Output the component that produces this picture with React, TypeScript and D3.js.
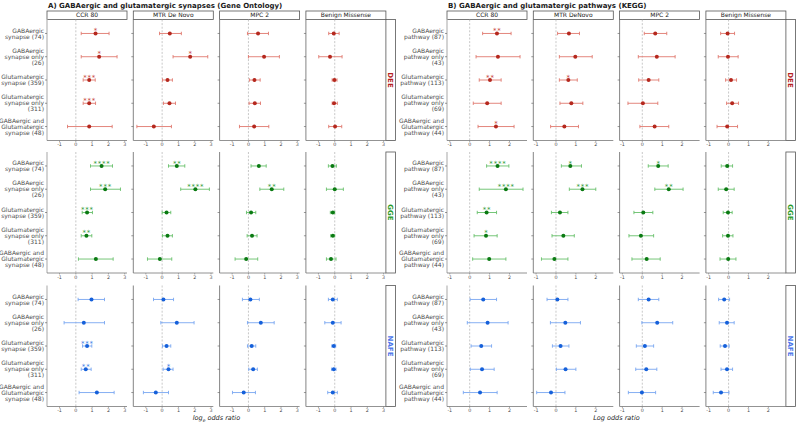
import React from "react";
import * as d3 from "d3";

// ---------- data ----------
const cohorts = ["DEE", "GGE", "NAFE"];
const goFacets = ["CCR 80", "MTR De Novo", "MPC 2", "Benign Missense"];
const keggFacets = ["CCR 80", "MTR DeNovo", "MPC 2", "Benign Missense"];
const goLabels = [
  ["GABAergic", "synapse (74)"],
  ["GABAergic", "synapse only", "(26)"],
  ["Glutamatergic", "synapse (359)"],
  ["Glutamatergic", "synapse only", "(311)"],
  ["GABAergic and", "Glutamatergic", "synapse (48)"],
];
const keggLabels = [
  ["GABAergic", "pathway (87)"],
  ["GABAergic", "pathway only", "(43)"],
  ["Glutamatergic", "pathway (113)"],
  ["Glutamatergic", "pathway only", "(69)"],
  ["GABAergic and", "Glutamatergic", "pathway (44)"],
];
const goTicks = [-1, 0, 1, 2, 3];
const keggTicks = [-1, 0, 1, 2];

// [facet][row]
const goDEEest = [[1.21, 1.43, 0.82, 0.82, 0.82], [0.47, 1.72, 0.33, 0.45, -0.51], [0.59, 0.96, 0.37, 0.39, 0.35], [-0.06, -0.29, -0.02, -0.04, 0.02]];
const goDEElo = [[0.33, 0.33, 0.45, 0.45, -0.51], [-0.16, 0.67, 0.02, 0.08, -1.55], [-0.06, 0, 0.06, 0.04, -0.55], [-0.37, -0.98, -0.16, -0.16, -0.37]];
const goDEEhi = [[2.04, 2.53, 1.19, 1.21, 2.23], [1.18, 2.8, 0.63, 0.82, 0.57], [1.23, 1.9, 0.72, 0.74, 1.25], [0.27, 0.45, 0.14, 0.16, 0.43]];
const goDEEsig = [["*", "*", "***", "***", ""], ["", "*", "", "", ""], ["", "", "", "", ""], ["", "", "", "", ""]];

const goGGEest = [[1.58, 1.8, 0.69, 0.65, 1.23], [0.9, 2.04, 0.27, 0.33, -0.14], [0.64, 1.43, 0.16, 0.22, -0.14], [-0.14, 0, -0.12, -0.12, -0.23]];
const goGGElo = [[0.9, 0.9, 0.39, 0.33, 0.16], [0.39, 1.14, 0, 0.02, -0.9], [0.16, 0.7, -0.12, -0.08, -0.82], [-0.39, -0.51, -0.27, -0.25, -0.51]];
const goGGEhi = [[2.25, 2.74, 1.02, 0.98, 2.29], [1.39, 2.9, 0.53, 0.63, 0.59], [1.09, 2.17, 0.45, 0.53, 0.57], [0.1, 0.53, 0, 0, 0.08]];
const goGGEsig = [["****", "***", "***", "**", ""], ["**", "****", "", "", ""], ["", "**", "", "", ""], ["", "", "", "", ""]];

const goNAFEest = [[0.96, 0.49, 0.69, 0.61, 1.29], [0.08, 0.9, 0.27, 0.39, -0.39], [0.12, 0.76, 0.2, 0.29, -0.29], [-0.12, -0.12, -0.06, -0.06, -0.12]];
const goNAFElo = [[0.14, -0.72, 0.41, 0.33, 0.2], [-0.53, -0.08, 0.02, 0.06, -1.15], [-0.37, -0.06, -0.06, 0.02, -0.98], [-0.39, -0.61, -0.18, -0.2, -0.43]];
const goNAFEhi = [[1.76, 1.76, 0.98, 0.94, 2.35], [0.7, 1.96, 0.53, 0.67, 0.39], [0.67, 1.58, 0.45, 0.55, 0.43], [0.16, 0.39, 0.06, 0.08, 0.16]];
const goNAFEsig = [["", "", "***", "**", ""], ["", "", "", "*", ""], ["", "", "", "", ""], ["", "", "", "", ""]];

const keggDEEest = [[1.37, 1.42, 1.02, 0.88, 1.32], [0.65, 0.97, 0.62, 0.77, 0.42], [0.65, 0.73, 0.32, 0.03, 0.62], [-0.05, -0.03, 0.12, 0.18, -0.07]];
const keggDEElo = [[0.65, 0.32, 0.48, 0.18, 0.42], [0.08, 0.17, 0.17, 0.2, -0.27], [0.1, -0.2, -0.18, -0.72, -0.12], [-0.4, -0.52, -0.15, -0.1, -0.58]];
const keggDEEhi = [[2.08, 2.53, 1.58, 1.58, 2.23], [1.18, 1.82, 1.07, 1.35, 1.13], [1.23, 1.65, 0.83, 0.78, 1.33], [0.3, 0.48, 0.4, 0.5, 0.45]];
const keggDEEsig = [["**", "", "**", "", "*"], ["", "", "*", "", ""], ["", "", "", "", ""], ["", "", "", "", ""]];

const keggGGEest = [[1.4, 1.82, 0.85, 0.82, 0.98], [0.72, 1.33, 0.2, 0.37, -0.08], [0.8, 1.33, 0.05, -0.07, 0.22], [-0.07, -0.12, -0.03, -0.03, -0.02]];
const keggGGElo = [[0.85, 0.48, 0.38, 0.22, 0.15], [0.27, 0.67, -0.23, -0.2, -0.73], [0.3, 0.63, -0.42, -0.67, -0.52], [-0.37, -0.52, -0.27, -0.3, -0.43]];
const keggGGEhi = [[1.97, 2.68, 1.35, 1.38, 1.82], [1.28, 2.0, 0.6, 0.92, 0.6], [1.3, 2.05, 0.53, 0.57, 0.9], [0.2, 0.28, 0.18, 0.22, 0.37]];
const keggGGEsig = [["****", "****", "**", "*", ""], ["*", "***", "", "", ""], ["*", "**", "", "", ""], ["", "", "", "", ""]];

const keggNAFEest = [[0.68, 0.9, 0.58, 0.62, 0.52], [0.07, 0.47, 0.23, 0.48, -0.25], [0.32, 0.75, 0.13, 0.2, -0.02], [-0.22, -0.08, -0.18, -0.08, -0.38]];
const keggNAFElo = [[0.02, -0.12, 0.07, 0.03, -0.32], [-0.45, -0.28, -0.18, 0.02, -0.97], [-0.2, -0.02, -0.3, -0.33, -0.7], [-0.5, -0.47, -0.42, -0.38, -0.77]];
const keggNAFEhi = [[1.35, 1.93, 1.1, 1.23, 1.38], [0.6, 1.23, 0.65, 1.0, 0.45], [0.83, 1.53, 0.57, 0.73, 0.67], [0.05, 0.28, 0.03, 0.2, 0.02]];
const keggNAFEsig = [["", "", "", "", ""], ["", "", "", "", ""], ["", "", "", "", ""], ["", "", "", "", ""]];

// ---------- style / layout ----------
const FONT = "'DejaVu Sans', sans-serif";
const pointColors = ["#b5281e", "#0a7a12", "#1560da"];
const barColors = ["#e0786e", "#66c06a", "#78a6f0"];
const starColors = ["#c8463c", "#2f9a36", "#3f80e6"];
const stripColors = ["#b51f1f", "#2a9a2a", "#4a74ea"];
const rowTops = [19.5, 152, 285.5];
const panelH = 121;
const facetW = 80;
const facetStep = 86.3;

const panels = [
  {
    title: "A) GABAergic and glutamatergic synapses (Gene Ontology)",
    left: 47,
    domain: [-1.77, 3.14],
    facets: goFacets,
    labels: goLabels,
    ticks: goTicks,
    xTitle: "log",
    data: [
      { est: goDEEest, lo: goDEElo, hi: goDEEhi, sig: goDEEsig },
      { est: goGGEest, lo: goGGElo, hi: goGGEhi, sig: goGGEsig },
      { est: goNAFEest, lo: goNAFElo, hi: goNAFEhi, sig: goNAFEsig },
    ],
  },
  {
    title: "B) GABAergic and glutamatergic pathways (KEGG)",
    left: 447,
    domain: [-1.14, 2.88],
    facets: keggFacets,
    labels: keggLabels,
    ticks: keggTicks,
    xTitle: "Log odds ratio",
    data: [
      { est: keggDEEest, lo: keggDEElo, hi: keggDEEhi, sig: keggDEEsig },
      { est: keggGGEest, lo: keggGGElo, hi: keggGGEhi, sig: keggGGEsig },
      { est: keggNAFEest, lo: keggNAFElo, hi: keggNAFEhi, sig: keggNAFEsig },
    ],
  },
];

function Panel({ p }: { p: any }) {
  const x = d3.scaleLinear().domain(p.domain).range([0, facetW]);
  const rightEdge = p.left + 3 * facetStep + facetW;
  const centerX = (p.left + rightEdge) / 2;
  return (
    <g>
      <text x={p.left + 1} y={7.5} fontSize={7} fontWeight="bold" fill="#1a1a1a" fontFamily={FONT}>
        {p.title}
      </text>
      {p.facets.map((f: string, fi: number) => {
        const fl = p.left + fi * facetStep;
        return (
          <g key={"h" + fi}>
            <rect x={fl} y={11} width={facetW} height={8.5} fill="#fff" stroke="#555" strokeWidth={0.8} />
            <text x={fl + facetW / 2} y={17.4} fontSize={6} textAnchor="middle" fill="#1a1a1a" fontFamily={FONT}>
              {f}
            </text>
          </g>
        );
      })}
      {cohorts.map((c, ci) => {
        const top = rowTops[ci];
        const y = d3.scalePoint<number>().domain([0, 1, 2, 3, 4]).range([top, top + panelH]).padding(0.6);
        const d = p.data[ci];
        return (
          <g key={c}>
            {p.labels.map((lines: string[], ri: number) => {
              const cy = y(ri) as number;
              const lh = 6;
              const start = cy - ((lines.length - 1) * lh) / 2;
              return (
                <text key={ri} x={p.left - 3} textAnchor="end" fontSize={6} fill="#4d4d4d" fontFamily={FONT}>
                  {lines.map((ln, li) => (
                    <tspan key={li} x={p.left - 3} y={start + li * lh + 2.1}>
                      {ln}
                    </tspan>
                  ))}
                </text>
              );
            })}
            {p.facets.map((f: string, fi: number) => {
              const fl = p.left + fi * facetStep;
              const X = (v: number) => fl + x(v);
              return (
                <g key={fi}>
                  <line x1={X(0)} x2={X(0)} y1={top} y2={top + panelH} stroke="#b0b0b0" strokeWidth={0.7} strokeDasharray="2,1.6" />
                  <line
                    x1={fl}
                    x2={fl}
                    y1={top}
                    y2={top + panelH}
                    stroke={fi === 0 ? "#c8c8c8" : "#666"}
                    strokeWidth={fi === 0 ? 1.6 : 0.8}
                  />
                  {[0, 1, 2, 3, 4].map((ri) => (
                    <line key={ri} x1={fl - 2} x2={fl} y1={y(ri)} y2={y(ri)} stroke="#555" strokeWidth={0.6} />
                  ))}
                  <line x1={fl} x2={fl + facetW} y1={top + panelH} y2={top + panelH} stroke="#777" strokeWidth={0.8} />
                  {p.ticks.map((t: number) => (
                    <g key={t}>
                      <line x1={X(t)} x2={X(t)} y1={top + panelH} y2={top + panelH + 1.5} stroke="#777" strokeWidth={0.6} />
                      <text x={X(t)} y={top + panelH + 5.6} fontSize={4.8} textAnchor="middle" fill="#4d4d4d" fontFamily={FONT}>
                        {t}
                      </text>
                    </g>
                  ))}
                  {[0, 1, 2, 3, 4].map((ri) => {
                    const yy = y(ri) as number;
                    const e = d.est[fi][ri];
                    const lo = d.lo[fi][ri];
                    const hi = d.hi[fi][ri];
                    const s = d.sig[fi][ri];
                    return (
                      <g key={ri}>
                        <line x1={X(lo)} x2={X(hi)} y1={yy} y2={yy} stroke={barColors[ci]} strokeWidth={0.9} />
                        <line x1={X(lo)} x2={X(lo)} y1={yy - 1.7} y2={yy + 1.7} stroke={barColors[ci]} strokeWidth={0.9} />
                        <line x1={X(hi)} x2={X(hi)} y1={yy - 1.7} y2={yy + 1.7} stroke={barColors[ci]} strokeWidth={0.9} />
                        <circle cx={X(e)} cy={yy} r={2} fill={pointColors[ci]} />
                        {s && (
                          <text x={X(e) + 0.4} y={yy - 0.3} fontSize={7} textAnchor="middle" fill={starColors[ci]} fontFamily={FONT} letterSpacing={0.8}>
                            {s}
                          </text>
                        )}
                      </g>
                    );
                  })}
                </g>
              );
            })}
            <rect x={rightEdge} y={top} width={9.5} height={panelH} fill="#fff" stroke="#555" strokeWidth={0.8} />
            <text
              transform={`translate(${rightEdge + 4.75},${top + panelH / 2}) rotate(90)`}
              textAnchor="middle"
              dy="0.35em"
              fontSize={7}
              fontWeight="bold"
              fill={stripColors[ci]}
              fontFamily={FONT}
            >
              {c}
            </text>
          </g>
        );
      })}
      {p.xTitle === "log" ? (
        <text x={centerX} y={420} fontSize={6.5} textAnchor="middle" fontStyle="italic" fill="#1a1a1a" fontFamily={FONT}>
          log
          <tspan fontSize={4.5} dy={1.5}>
            e
          </tspan>
          <tspan dy={-1.5}> odds ratio</tspan>
        </text>
      ) : (
        <text x={centerX} y={420} fontSize={6.5} textAnchor="middle" fontStyle="italic" fill="#1a1a1a" fontFamily={FONT}>
          {p.xTitle}
        </text>
      )}
    </g>
  );
}

export default function App() {
  return (
    <svg width={796} height={422} style={{ position: "absolute", left: 0, top: 0, background: "#fff" }}>
      <rect width={796} height={422} fill="#fff" />
      {panels.map((p, i) => (
        <Panel key={i} p={p} />
      ))}
    </svg>
  );
}
